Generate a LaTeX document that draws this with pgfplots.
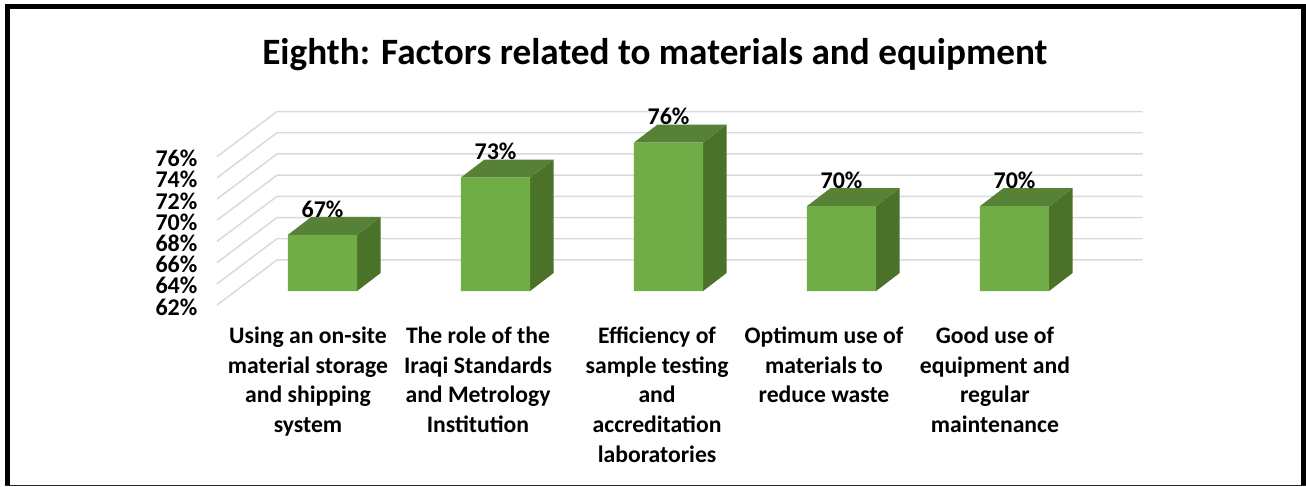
\documentclass[border=0pt]{standalone}
\usepackage{fontspec}
\setmainfont{Carlito}
\usepackage{pgfplots}
\pgfplotsset{compat=1.18}
\definecolor{barfront}{HTML}{70AD47}
\definecolor{barside}{HTML}{4A7229}
\definecolor{bartop}{HTML}{568136}
\definecolor{gridgray}{HTML}{D9D9D9}

\pgfplotsset{
  planeaxis/.style={
    scale only axis, x=129.75pt, y=7.95pt,
    xmin=-0.6098, xmax=4.741, ymin=62,
    clip=false,
    axis line style={draw=none},
    tick style={draw=none},
    /pgf/number format/assume math mode=true,
  },
  grid line/.style={gridgray, line width=1.1pt},
  side face/.style={fill=barside, draw=none},
  top face/.style={fill=bartop, draw=none},
}

\begin{document}
\begin{tikzpicture}
\path[use as bounding box] (0,0) rectangle (979.5pt,364.5pt);
% outer frame
\fill[black] (3.75pt,0.5pt) rectangle (7.5pt,361.5pt);
\fill[black] (3.75pt,357.75pt) rectangle (979.5pt,361.5pt);
\fill[black] (975.75pt,0pt) rectangle (979.5pt,361.5pt);
\fill[black!85] (3.75pt,0pt) rectangle (979.5pt,0.8pt);

% walls: front plane carries the y tick labels
\begin{axis}[
  planeaxis,
  at={(162.75pt,135.75pt)}, anchor=south west,
  ymax=80.25,
  xtick=\empty,
  ytick={62,64,...,76},
  yticklabel={\pgfmathprintnumber{\tick}\%},
  yticklabel style={font=\fontsize{18}{20}\selectfont\bfseries, anchor=east, inner sep=0pt, xshift=-14.5pt, yshift=-1.5pt},
  title={Eighth: Factors related to materials and equipment},
  title style={at={(0.473,1.253)}, anchor=center, font=\fontsize{27.9}{32}\selectfont\bfseries},
]
\addplot[grid line] coordinates {(-0.6098,62) (-0.263,66.25) (4.741,66.25)};
\addplot[grid line] coordinates {(-0.6098,64) (-0.263,68.25) (4.741,68.25)};
\addplot[grid line] coordinates {(-0.6098,66) (-0.263,70.25) (4.741,70.25)};
\addplot[grid line] coordinates {(-0.6098,68) (-0.263,72.25) (4.741,72.25)};
\addplot[grid line] coordinates {(-0.6098,70) (-0.263,74.25) (4.741,74.25)};
\addplot[grid line] coordinates {(-0.6098,72) (-0.263,76.25) (4.741,76.25)};
\addplot[grid line] coordinates {(-0.6098,74) (-0.263,78.25) (4.741,78.25)};
\addplot[grid line] coordinates {(-0.6098,76) (-0.263,80.25) (4.741,80.25)};
\end{axis}

% bars: their front faces sit in a plane 14px up from the wall's front edge
\begin{axis}[
  planeaxis,
  at={(162.75pt,146.25pt)}, anchor=south west,
  ymax=78,
  xtick={-0.084,0.899,1.934,2.899,3.887},
  xticklabels={
    {Using an on-site\\material storage\\and shipping\\system},
    {The role of the\\Iraqi Standards\\and Metrology\\Institution},
    {Efficiency of\\sample testing\\and\\accreditation\\laboratories},
    {Optimum use of\\materials to\\reduce waste},
    {Good use of\\equipment and\\regular\\maintenance}},
  xticklabel style={align=center, anchor=north, yshift=-23.5pt,
    font=\fontsize{17.75}{22.2}\selectfont\bfseries},
  ytick=\empty,
]
% side faces
\addplot[side face] coordinates {(0.2,62) (0.336,63.7) (0.336,69) (0.2,67.3)} -- cycle;
\addplot[side face] coordinates {(1.2,62) (1.336,63.7) (1.336,74.4) (1.2,72.7)} -- cycle;
\addplot[side face] coordinates {(2.2,62) (2.336,63.7) (2.336,77.7) (2.2,76)} -- cycle;
\addplot[side face] coordinates {(3.2,62) (3.336,63.7) (3.336,71.7) (3.2,70)} -- cycle;
\addplot[side face] coordinates {(4.2,62) (4.336,63.7) (4.336,71.7) (4.2,70)} -- cycle;
% top faces
\addplot[top face] coordinates {(-0.2,67.3) (0.2,67.3) (0.336,69) (-0.064,69)} -- cycle;
\addplot[top face] coordinates {(0.8,72.7) (1.2,72.7) (1.336,74.4) (0.936,74.4)} -- cycle;
\addplot[top face] coordinates {(1.8,76) (2.2,76) (2.336,77.7) (1.936,77.7)} -- cycle;
\addplot[top face] coordinates {(2.8,70) (3.2,70) (3.336,71.7) (2.936,71.7)} -- cycle;
\addplot[top face] coordinates {(3.8,70) (4.2,70) (4.336,71.7) (3.936,71.7)} -- cycle;
% front faces
\addplot[ybar, bar width=0.4, fill=barfront, draw=none,
  nodes near coords={\pgfmathprintnumber[fixed,precision=0]{\pgfplotspointmeta}\%},
  nodes near coords align={anchor=center, yshift=19.4pt},
  every node near coord/.append style={font=\fontsize{18}{20}\selectfont\bfseries, black},
] coordinates {(0,67.3) (1,72.7) (2,76) (3,70) (4,70)};
\end{axis}
\end{tikzpicture}
\end{document}
